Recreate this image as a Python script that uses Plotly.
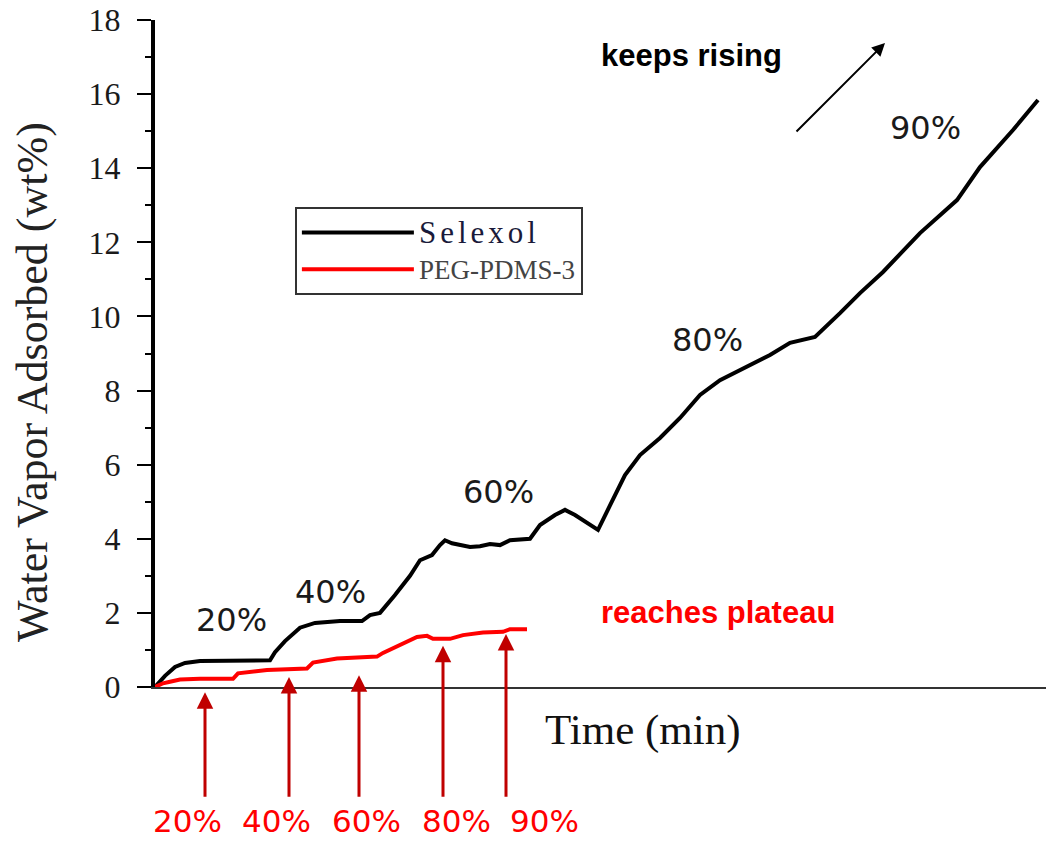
import plotly.graph_objects as go

# ---------------- data ----------------
selexol_t = [0, 5, 10, 20, 30, 45, 75, 115, 120, 130, 145, 160, 185, 207, 215, 225, 240, 255,
             265, 277, 285, 290, 297, 315, 325, 335, 345, 355, 375, 385, 400, 410, 420, 435,
             443, 455, 470, 485, 505, 525, 545, 565, 585, 615, 635, 645, 660, 685, 705, 728,
             765, 802, 825, 858, 883]
selexol_w = [0, 0.15, 0.3, 0.54, 0.65, 0.7, 0.72, 0.72, 0.94, 1.24, 1.6, 1.73, 1.78, 1.78, 1.94,
             2.0, 2.48, 3.0, 3.42, 3.56, 3.83, 3.96, 3.88, 3.78, 3.8, 3.86, 3.83, 3.96, 4.0, 4.37,
             4.64, 4.78, 4.64, 4.37, 4.24, 4.9, 5.72, 6.26, 6.72, 7.26, 7.88, 8.28, 8.55, 8.96,
             9.29, 9.36, 9.45, 10.09, 10.63, 11.2, 12.25, 13.14, 14.03, 15.03, 15.84]

peg_t = [0, 8, 15, 25, 45, 78, 83, 95, 112, 152, 158, 182, 208, 222, 228, 248, 262, 272, 278,
         295, 308, 328, 348, 355, 372]
peg_w = [0, 0.1, 0.14, 0.2, 0.22, 0.22, 0.37, 0.41, 0.46, 0.5, 0.66, 0.77, 0.8, 0.82, 0.92,
         1.19, 1.35, 1.38, 1.3, 1.3, 1.4, 1.47, 1.49, 1.56, 1.56]

# RH step labels on the Selexol curve
rh_labels = ["20%", "40%", "60%", "80%", "90%"]
rh_label_t = [76, 175, 343, 552, 770]
rh_label_w = [1.81, 2.56, 5.26, 9.36, 15.08]

# red arrows marking RH steps on PEG-PDMS-3
arrow_t = [50, 134, 204, 288, 351]
arrow_tip_w = [-0.14, 0.27, 0.32, 1.11, 1.43]
arrow_tail_w = -3.0
bottom_label_t = [32, 121, 211, 301, 389]
bottom_label_w = -3.62

rising_from = (640, 14.95)
rising_to = (730, 17.38)

T_MAX = 891
Y_MAX = 18

serif = "Liberation Serif, Times New Roman, serif"
sans = "DejaVu Sans, Verdana, sans-serif"
arial = "Liberation Sans, Arial, sans-serif"


def py(w):
    """wt% value -> y-domain fraction (lets annotations sit below the axis)."""
    return w / Y_MAX


fig = go.Figure()
fig.add_trace(go.Scatter(
    x=selexol_t, y=selexol_w, mode="lines",
    name='<span style="font-size:31px;letter-spacing:4px">Selexol</span>',
    line=dict(color="#000000", width=4)))
fig.add_trace(go.Scatter(
    x=peg_t, y=peg_w, mode="lines",
    name='<span style="font-size:27px;fill:#444444">PEG-PDMS-3</span>',
    line=dict(color="#ff0000", width=4)))

ann = []
for lab, t, w in zip(rh_labels, rh_label_t, rh_label_w):
    ann.append(dict(x=t, y=w, xref="x", yref="y", text=lab, showarrow=False,
                    font=dict(family=sans, size=32, color="#1a1a1a")))
for t, w in zip(arrow_t, arrow_tip_w):
    ann.append(dict(x=t, y=py(w), xref="x", yref="y domain", ax=t, ay=py(arrow_tail_w),
                    axref="x", ayref="y domain", text="", showarrow=True,
                    arrowhead=2, arrowsize=1.1, arrowwidth=3, arrowcolor="#c00000"))
for lab, t in zip(rh_labels, bottom_label_t):
    ann.append(dict(x=t, y=py(bottom_label_w), xref="x", yref="y domain", text=lab,
                    showarrow=False, xanchor="center", yanchor="middle", borderpad=0,
                    font=dict(family=sans, size=31, color="#ff0000")))
ann.append(dict(x=rising_to[0], y=rising_to[1], ax=rising_from[0], ay=rising_from[1],
                xref="x", yref="y", axref="x", ayref="y", text="", showarrow=True,
                arrowhead=2, arrowsize=1.3, arrowwidth=2, arrowcolor="#000000"))
ann.append(dict(x=536, y=17.03, xref="x", yref="y", text="<b>keeps rising</b>",
                showarrow=False, font=dict(family=arial, size=31, color="#000000")))
ann.append(dict(x=563, y=2.02, xref="x", yref="y", text="<b>reaches plateau</b>",
                showarrow=False, font=dict(family=arial, size=31, color="#ff0000")))
ann.append(dict(x=488, y=py(-1.16), xref="x", yref="y domain", text="Time (min)",
                showarrow=False, xanchor="center", yanchor="middle",
                font=dict(family=serif, size=43, color="#111111")))
ann.append(dict(x=-123 / T_MAX, y=py(8.23), xref="paper", yref="paper",
                text="Water Vapor Adsorbed (wt%)", textangle=-90, showarrow=False,
                xanchor="center", yanchor="middle",
                font=dict(family=serif, size=44, color="#222222")))

fig.update_layout(
    width=1046, height=842, autosize=False,
    margin=dict(l=155, r=0, t=20, b=155),
    paper_bgcolor="white", plot_bgcolor="white",
    showlegend=True,
    legend=dict(x=0.157, y=0.7196, xanchor="left", yanchor="top",
                bordercolor="#333333", borderwidth=2, bgcolor="white",
                font=dict(family=serif, size=26, color="#1a1a3a"),
                itemwidth=112, tracegroupgap=0),
    annotations=ann,
    xaxis=dict(range=[0, T_MAX], showline=True, linewidth=2, linecolor="#333333",
               showticklabels=False, ticks="", showgrid=False, zeroline=False),
    yaxis=dict(range=[0, Y_MAX], dtick=2, tick0=0, showline=True, linewidth=4,
               linecolor="#000000", ticks="outside", ticklen=14, tickwidth=2,
               tickcolor="#000000", showgrid=False, zeroline=False,
               ticklabelstandoff=10,
               tickfont=dict(family=serif, size=32, color="#1a1a1a"),
               minor=dict(dtick=1, ticks="outside", ticklen=6, tickwidth=2,
                          tickcolor="#000000", showgrid=False)),
)

fig.write_html("out.html")
